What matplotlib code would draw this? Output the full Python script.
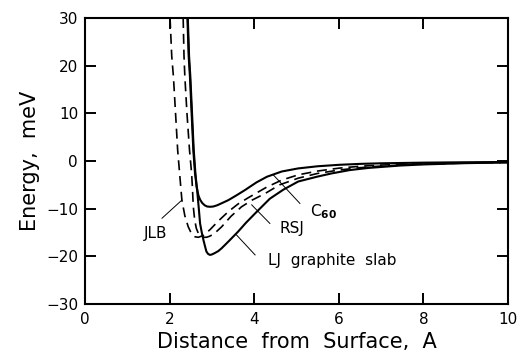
import matplotlib
matplotlib.use("Agg")
import matplotlib.pyplot as plt

# ---- data (distance in A, energy in meV) ----
lj_x = [2.42, 2.45, 2.48, 2.52, 2.56, 2.60, 2.65, 2.69, 2.72, 2.76, 2.80, 2.84, 2.87, 2.91, 2.955,
        3.00, 3.07, 3.15, 3.23, 3.40, 3.62, 3.80, 4.02, 4.20, 4.37, 4.69, 5.04, 5.48, 5.83, 6.26,
        6.70, 7.45, 8.00, 9.00, 10.0]
lj_y = [30.0, 22.0, 17.7, 10.0, 2.3, -2.6, -6.1, -10.0, -13.1, -15.0, -16.6, -18.0, -19.0, -19.5, -19.7,
        -19.6, -19.3, -18.9, -18.3, -16.8, -14.8, -13.0, -11.0, -9.4, -7.9, -6.0, -4.3, -3.3, -2.6, -1.9,
        -1.45, -0.95, -0.72, -0.45, -0.30]

c60_x = [2.43, 2.46, 2.49, 2.53, 2.57, 2.61, 2.64, 2.68, 2.72, 2.77, 2.83, 2.89, 2.955, 3.03,
         3.12, 3.22, 3.39, 3.58, 3.78, 4.05, 4.30, 4.65, 5.04, 5.50, 6.00, 6.50, 7.00, 8.00, 9.00, 10.0]
c60_y = [30.0, 22.0, 17.7, 10.0, 2.3, -2.6, -5.4, -7.2, -8.1, -8.8, -9.3, -9.55, -9.6, -9.55,
         -9.3, -8.9, -8.2, -7.2, -6.1, -4.5, -3.3, -2.2, -1.55, -1.1, -0.8, -0.6, -0.48, -0.34, -0.26, -0.2]

rsj_x = [2.32, 2.34, 2.36, 2.41, 2.47, 2.52, 2.54, 2.56, 2.59, 2.63, 2.68, 2.74, 2.80, 2.87,
         2.94, 3.03, 3.12, 3.23, 3.45, 3.70, 3.95, 4.26, 4.60, 5.04, 5.50, 6.00, 6.50, 7.00,
         8.00, 9.00, 10.0]
rsj_y = [30.0, 22.0, 17.7, 10.0, 2.3, -2.6, -5.8, -9.6, -12.2, -14.1, -15.2, -15.8, -16.0, -16.0,
         -15.8, -15.4, -14.7, -13.8, -11.6, -9.6, -8.2, -6.8, -5.0, -3.6, -2.6, -1.9, -1.4, -1.05,
         -0.65, -0.42, -0.30]

jlb_x = [2.01, 2.05, 2.09, 2.14, 2.19, 2.24, 2.29, 2.36, 2.44, 2.52, 2.60, 2.68, 2.80,
         2.955, 3.15, 3.39, 3.62, 3.86, 4.29, 4.65, 5.04, 5.50, 6.00, 6.50, 7.00, 8.00,
         9.00, 10.0]
jlb_y = [30.0, 22.0, 17.7, 10.0, 2.3, -3.0, -8.2, -11.5, -13.8, -15.3, -15.9, -16.0, -15.6,
         -14.4, -12.6, -10.6, -9.0, -7.7, -5.5, -4.0, -2.9, -2.1, -1.5, -1.1, -0.85, -0.55,
         -0.38, -0.28]

x_ticks = [0, 2, 4, 6, 8, 10]
y_ticks = [-30, -20, -10, 0, 10, 20, 30]

plt.rcParams['font.family'] = ['DejaVu Sans']

fig = plt.figure(figsize=(5.2, 3.54), dpi=100)
ax = fig.add_axes([0.1635, 0.1412, 0.8135, 0.8079])

dash = (0, (6, 3.5))
ax.plot(jlb_x, jlb_y, color='black', lw=1.2, linestyle=dash)
ax.plot(rsj_x, rsj_y, color='black', lw=1.2, linestyle=dash)
ax.plot(lj_x, lj_y, color='black', lw=1.5, solid_capstyle='butt')
ax.plot(c60_x, c60_y, color='black', lw=1.5, solid_capstyle='butt')

ax.set_xlim(0, 10)
ax.set_ylim(-30, 30)
ax.set_xticks(x_ticks)
ax.set_yticks(y_ticks)
ax.tick_params(direction='in', top=True, right=True, length=8, width=1.4, labelsize=11)
ax.tick_params(axis='y', pad=5)
ax.tick_params(axis='x', pad=6)
for s in ax.spines.values():
    s.set_linewidth(1.5)

ax.set_xlabel('Distance  from  Surface,  A', fontsize=15, labelpad=3)
ax.set_ylabel('Energy,  meV', fontsize=15, labelpad=4)

# annotations with leader lines
lk = dict(color='black', lw=0.7)
ax.plot([1.82, 2.29], [-12.0, -8.2], **lk)
ax.text(1.67, -15.2, 'JLB', fontsize=11, ha='center', va='center')

ax.plot([4.37, 3.94], [-13.1, -9.2], **lk)
ax.text(4.9, -14.1, 'RSJ', fontsize=11, ha='center', va='center')

ax.plot([5.08, 4.45], [-8.9, -2.9], **lk)
ax.text(5.32, -11.5, r'C$_{\mathbf{60}}$', fontsize=11, ha='left', va='baseline')

ax.plot([4.02, 3.58], [-19.7, -15.5], **lk)
ax.text(4.33, -21.8, 'LJ  graphite  slab', fontsize=11, ha='left', va='baseline')

fig.savefig('out.png', dpi=100)
